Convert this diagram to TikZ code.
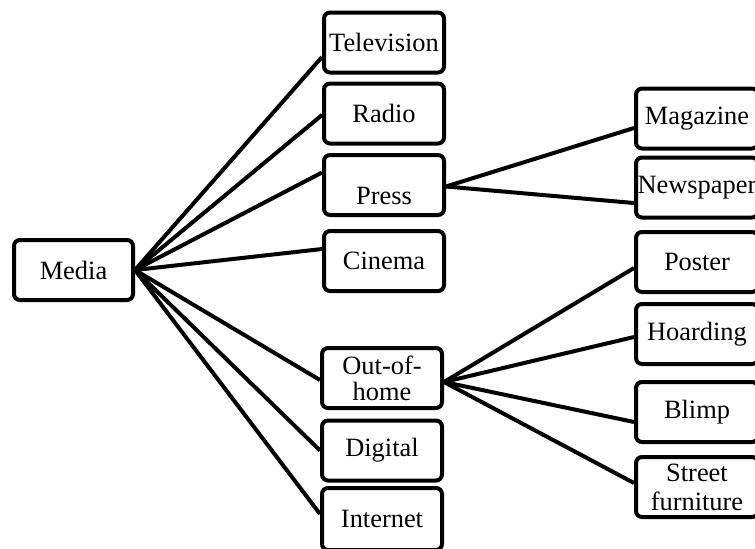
\documentclass[tikz,border=0pt]{standalone}
\usepackage{fontspec}
\setmainfont{Liberation Serif}
\usetikzlibrary{calc}
\begin{document}
\begin{tikzpicture}[x=0.5pt,y=-0.5pt,
  box/.style={draw, line width=2pt, rounded corners=3pt, minimum width=60pt,
    minimum height=30pt, inner sep=0.5pt, align=center,
    font=\fontsize{13.2}{13.5}\selectfont},
  rbox/.style={box, minimum width=61pt},
  conn/.style={line width=2pt}]
\useasboundingbox (0,0) rectangle (755,548);
% root
\node[box, minimum width=59.5pt] (media) at (73.5,270) {Media};
% middle column
\node[box] (tv) at (384,42.5) {Television};
\node[box] (radio) at (384,113.5) {Radio};
\node[box, text height=19.5pt, text depth=0pt] (press) at (384,185) {Press};
\node[box] (cinema) at (384,261) {Cinema};
\node[box, font=\fontsize{13.2}{13}\selectfont] (ooh) at (382,378) {Out-of-\\home};
\node[box] (digital) at (382,450.5) {Digital};
\node[box, minimum height=31pt] (internet) at (382,519) {Internet};
% right column
\node[rbox] (mag) at (697,118.5) {Magazine};
\node[rbox] (news) at (697,187.5) {Newspaper};
\node[rbox] (poster) at (697,262) {Poster};
\node[rbox] (hoard) at (697,334) {Hoarding};
\node[rbox] (blimp) at (697,412) {Blimp};
\node[rbox, font=\fontsize{13.2}{14.5}\selectfont] (street) at (697,487) {Street\\furniture};
% connectors from Media
\draw[conn] (media.east) -- ($(tv.west)+(0,14.5)$);
\draw[conn] (media.east) -- ($(radio.west)+(0,1.5)$);
\draw[conn] (media.east) -- ($(press.west)+(0,-12.5)$);
\draw[conn] (media.east) -- ($(cinema.west)+(0,-12)$);
\draw[conn] (media.east) -- ($(ooh.west)+(0,2)$);
\draw[conn] (media.east) -- (digital.west);
\draw[conn] (media.east) -- ($(internet.west)+(0,-5)$);
% connectors from Press
\coordinate (ps) at ($(press.east)+(0,1.5)$);
\draw[conn] (ps) -- ($(mag.west)+(0,9.5)$);
\draw[conn] (ps) -- ($(news.west)+(0,15.5)$);
% connectors from Out-of-home
\coordinate (os) at ($(ooh.east)+(0,4)$);
\draw[conn] (os) -- ($(poster.west)+(0,6)$);
\draw[conn] (os) -- ($(hoard.west)+(0,3)$);
\draw[conn] (os) -- ($(blimp.west)+(0,10)$);
\draw[conn] (os) -- ($(street.west)+(0,-4)$);
\end{tikzpicture}
\end{document}
